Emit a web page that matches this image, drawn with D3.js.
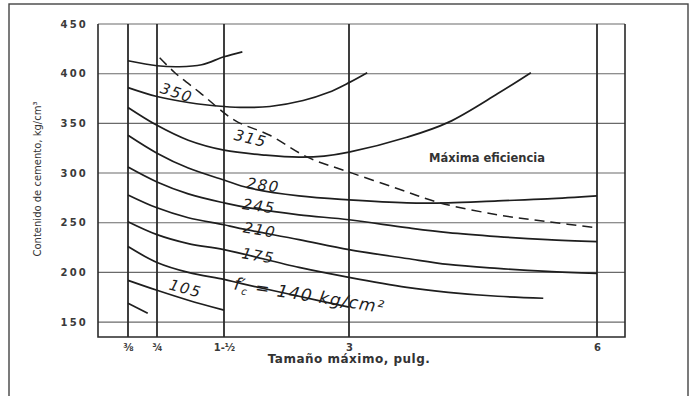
<!DOCTYPE html>
<html>
<head>
<meta charset="utf-8">
<script src="https://cdn.jsdelivr.net/npm/d3@7"></script>
<style>
  body { margin: 0; background: #fff; }
  svg { display: block; }
</style>
</head>
<body>
<div id="content"></div>
<script>
/* Cement content vs. max aggregate size, one curve per f'c */

const WIDTH = 690;
const HEIGHT = 396;
const PLOT = {left: 98, right: 625, top: 24, bottom: 337};

// x axis: maximum size in inches (hand drawn, not evenly spaced)
const xTicks = [0.375, 0.75, 1.5, 3, 6];
const xTickLabels = ["⅜", "¾", "1-½", "3", "6"];
const xMax = 6.34;
// y axis: kg/m3
const yTicks = [150, 200, 250, 300, 350, 400, 450];
const yMin = 135;

// curves: [size in, cement content]
const curveTop = [[0.375,413],[0.75,408],[1.0,407],[1.25,409],[1.5,417],[1.72,422]];
const curve350 = [[0.375,386],[0.75,377],[1.1,371],[1.5,367],[1.75,366],[2.05,367],[2.45,373],[2.75,381],[3.0,391],[3.22,401]];
const curve315 = [[0.375,366],[0.75,348],[1.1,333],[1.5,323],[2.0,318],[2.4,316],[2.7,317],[3.0,321],[3.7,336],[4.2,351],[4.8,380],[5.2,401]];
const curve280 = [[0.375,338],[0.75,320],[1.1,305],[1.5,293],[1.8,285],[2.4,277],[3.0,273],[3.7,270],[4.2,270],[4.8,272],[5.4,274],[6.0,277]];
const curve245 = [[0.375,306],[0.75,291],[1.1,279],[1.5,270],[1.8,265],[2.4,258],[3.0,253],[3.7,245],[4.2,240],[4.8,236],[5.4,233],[6.0,231]];
const curve210 = [[0.375,278],[0.75,265],[1.1,255],[1.5,248],[1.65,245],[2.4,233],[3.0,223],[3.7,214],[4.2,208],[4.8,204],[5.4,201],[6.0,199]];
const curve175 = [[0.375,251],[0.75,238],[1.1,229],[1.5,223],[2.4,205],[3.0,195],[3.7,185],[4.2,180],[4.8,176],[5.35,174]];
const curve140 = [[0.375,226],[0.75,210],[1.1,200],[1.5,193],[1.7,189],[2.4,176],[3.0,165]];
const curve105 = [[0.375,192],[0.75,182],[1.1,172],[1.5,162]];
const curveStub = [[0.375,169],[0.63,159]];
// "maxima eficiencia" dashed line
const maxEfficiency = [[0.78,416],[0.95,401],[1.23,381],[1.63,353],[2.05,338],[2.5,316],[3.0,301],[3.6,284],[4.1,270],[4.8,258],[5.4,251],[6.0,245]];

// curve labels: text, anchor in data units, tilt in degrees
const curveLabels = [
  {text: "350", at: [0.97, 381], tilt: 18},
  {text: "315", at: [1.82, 335], tilt: 14},
  {text: "280", at: [1.97, 288], tilt: 8},
  {text: "245", at: [1.92, 267], tilt: 8},
  {text: "210", at: [1.93, 243], tilt: 10},
  {text: "175", at: [1.91, 217], tilt: 10},
  {text: "105", at: [1.07, 184], tilt: 15}
];

window.onload = () => {
  const svg = d3.select("#content").append("svg")
    .attr("width", WIDTH).attr("height", HEIGHT);

  // scanned page frame
  svg.append("rect")
    .attr("x", 9).attr("y", 4).attr("width", 679).attr("height", 400)
    .attr("fill", "none").attr("stroke", "#444").attr("stroke-width", 1.4);

  const x = d3.scaleLinear()
    .domain([0, ...xTicks, xMax])
    .range([PLOT.left, 128, 157, 224, 349, 597, PLOT.right]);
  const y = d3.scaleLinear().domain([yMin, 450]).range([PLOT.bottom, PLOT.top]);

  const g = svg.append("g");

  // horizontal grid
  g.selectAll("line.h").data(yTicks).enter().append("line")
    .attr("class", "h")
    .attr("x1", x(0)).attr("x2", x(xMax))
    .attr("y1", (d) => y(d)).attr("y2", (d) => y(d))
    .attr("stroke", "#6a6a6a").attr("stroke-width", 1.1);

  // vertical lines at each size
  g.selectAll("line.v").data(xTicks).enter().append("line")
    .attr("class", "v")
    .attr("x1", (d) => x(d)).attr("x2", (d) => x(d))
    .attr("y1", y(yMin)).attr("y2", y(450))
    .attr("stroke", "#2a2a2a").attr("stroke-width", 1.8);

  // plot border (left, right, bottom)
  g.append("path")
    .attr("d", `M${x(0)},${y(450)}V${y(yMin)}H${x(xMax)}V${y(450)}`)
    .attr("fill", "none").attr("stroke", "#2a2a2a").attr("stroke-width", 1.6);

  // axes, text only
  const yAxis = svg.append("g")
    .attr("transform", `translate(${x(0)},0)`)
    .call(d3.axisLeft(y).tickValues(yTicks).tickSize(0).tickPadding(10));
  yAxis.select(".domain").remove();
  yAxis.selectAll("text")
    .attr("font-family", "DejaVu Sans").attr("font-weight", "bold")
    .attr("font-size", 10).attr("letter-spacing", 2.2).attr("fill", "#3a3a3a");

  const xAxis = svg.append("g")
    .attr("transform", `translate(0,${y(yMin)})`)
    .call(d3.axisBottom(x).tickValues(xTicks).tickFormat((d, i) => xTickLabels[i]).tickSize(0).tickPadding(7));
  xAxis.select(".domain").remove();
  xAxis.selectAll("text")
    .attr("font-family", "DejaVu Sans").attr("font-weight", "bold")
    .attr("font-size", 10).attr("fill", "#3a3a3a");

  // curves
  const line = d3.line()
    .x((d) => x(d[0]))
    .y((d) => y(d[1]))
    .curve(d3.curveCatmullRom.alpha(0.5));

  const curves = [curveTop, curve350, curve315, curve280, curve245, curve210, curve175, curve140, curve105, curveStub];
  g.selectAll("path.curve").data(curves).enter().append("path")
    .attr("class", "curve")
    .attr("d", line)
    .attr("fill", "none").attr("stroke", "#1e1e1e").attr("stroke-width", 1.7);

  g.append("path")
    .attr("d", line(maxEfficiency))
    .attr("fill", "none").attr("stroke", "#1e1e1e").attr("stroke-width", 1.5)
    .attr("stroke-dasharray", "10,6");

  // curve labels
  svg.selectAll("text.lbl").data(curveLabels).enter().append("text")
    .attr("class", "lbl")
    .attr("transform", (d) => `translate(${x(d.at[0])},${y(d.at[1])}) rotate(${d.tilt})`)
    .attr("text-anchor", "middle").attr("dy", "0.36em")
    .attr("font-family", "DejaVu Sans").attr("font-style", "italic")
    .attr("font-size", 15).attr("letter-spacing", 1.5).attr("fill", "#1e1e1e")
    .text((d) => d.text);

  const fc = svg.append("text")
    .attr("transform", `translate(${x(1.61)},${y(183)}) rotate(9)`)
    .attr("font-family", "DejaVu Sans").attr("font-style", "italic")
    .attr("font-size", 17).attr("letter-spacing", 1.2).attr("fill", "#1e1e1e");
  fc.append("tspan").text("f′");
  fc.append("tspan").attr("font-size", 10).attr("dy", 4).attr("dx", -4).text("c");
  fc.append("tspan").attr("dy", -4).text(" = 140 kg/cm²");

  svg.append("text")
    .attr("x", x(4.67)).attr("y", y(315)).attr("dy", "0.36em")
    .attr("text-anchor", "middle")
    .attr("font-family", "DejaVu Sans").attr("font-weight", "bold")
    .attr("font-size", 11.5).attr("fill", "#333")
    .text("Máxima eficiencia");

  // axis titles
  svg.append("text")
    .attr("x", x(3)).attr("y", 363)
    .attr("text-anchor", "middle")
    .attr("font-family", "DejaVu Sans").attr("font-weight", "bold")
    .attr("font-size", 12).attr("letter-spacing", 0.5).attr("fill", "#333")
    .text("Tamaño máximo, pulg.");

  svg.append("text")
    .attr("transform", "translate(41,179) rotate(-90)")
    .attr("text-anchor", "middle")
    .attr("font-family", "DejaVu Sans")
    .attr("font-size", 10).attr("fill", "#333")
    .text("Contenido de cemento, kg/cm³");
};
</script>
</body>
</html>
